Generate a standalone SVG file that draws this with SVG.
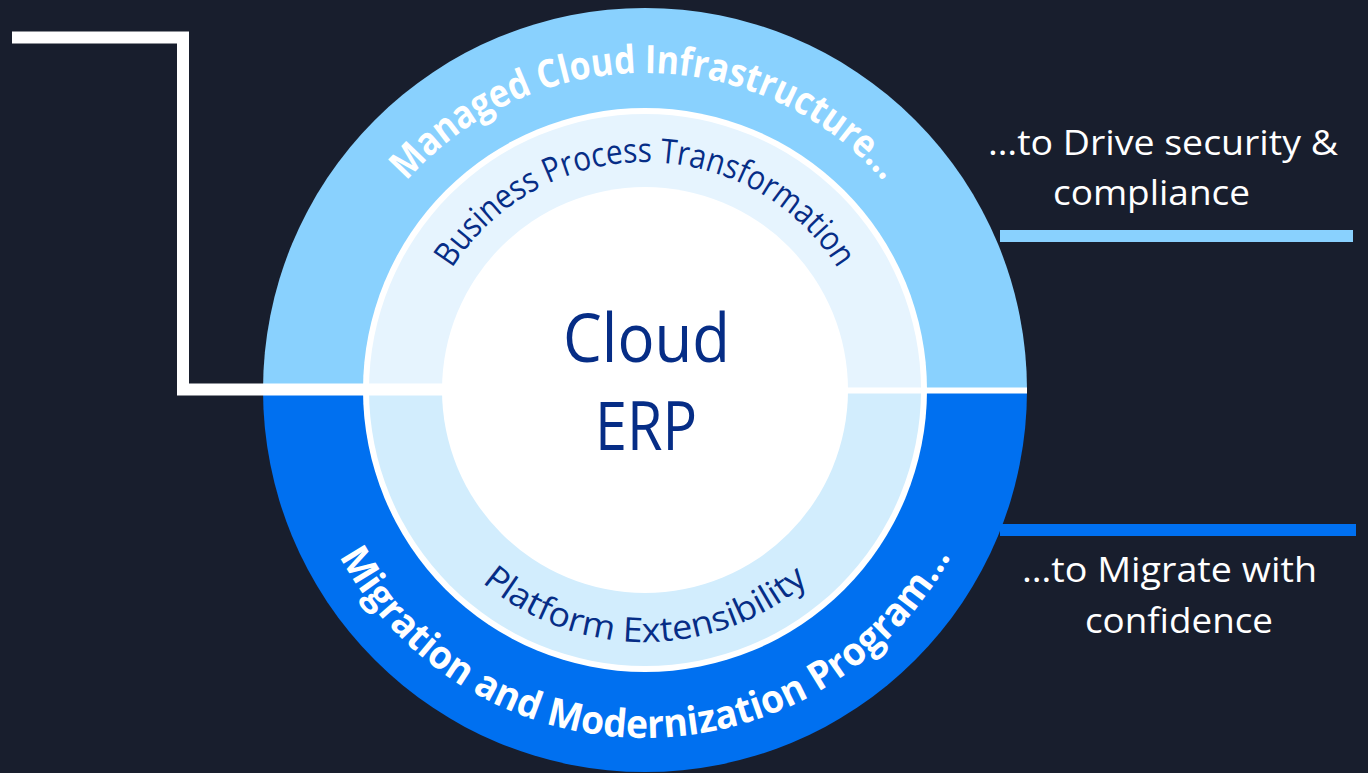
<svg xmlns="http://www.w3.org/2000/svg" width="1368" height="773" viewBox="0 0 1368 773">
<style>
.lbl{font-family:"Open Sans","Noto Sans","Liberation Sans",sans-serif;fill:#ffffff;font-size:34px}
.arcW{font-family:"Open Sans","Noto Sans","Liberation Sans",sans-serif;font-weight:700;fill:#ffffff;font-size:39px}
.arcN{font-family:"Open Sans","Noto Sans","Liberation Sans",sans-serif;fill:#062d86;font-size:34px}
.core{font-family:"Open Sans","Noto Sans","Liberation Sans",sans-serif;fill:#062d86;font-size:68px}
</style>
<defs>
<path id="pTopOuter" d="M328,390 A317,317 0 0 1 962,390"/>
<path id="pTopInner" d="M417,390 A228,228 0 0 1 873,390"/>
<path id="pBotInner" d="M393,390 A252,252 0 0 0 897,390"/>
<path id="pBotOuter" d="M297,390 A348,348 0 0 0 993,390"/>
</defs>
<rect x="0" y="0" width="1368" height="773" fill="#181e2d"/>

<g id="outer-top">
<path d="M263,390 A382,382 0 0 1 1027,390 Z" fill="#89d1fe"/>
</g>
<g id="outer-bottom">
<path d="M263,390 A382,382 0 0 0 1027,390 Z" fill="#0070f0"/>
</g>
<g id="middle-ring">
<circle cx="645" cy="390" r="282" fill="#ffffff"/>
<path d="M369,390 A276,276 0 0 1 921,390 Z" fill="#e6f4fe"/>
<path d="M369,390 A276,276 0 0 0 921,390 Z" fill="#d2edfd"/>
</g>
<g id="core">
<circle cx="645" cy="390" r="203" fill="#ffffff"/>
</g>

<g id="connectors" fill="none">
<line x1="645" y1="390.5" x2="1027" y2="390.5" stroke="#ffffff" stroke-width="6"/>
<path d="M12,37.5 H183 V389.5 H645" stroke="#ffffff" stroke-width="12"/>
<line x1="1000" y1="236" x2="1353" y2="236" stroke="#89d1fe" stroke-width="12"/>
<line x1="1000" y1="530" x2="1356" y2="530" stroke="#0070f0" stroke-width="12"/>
</g>

<g id="label-managed">
<text class="arcW"><textPath href="#pTopOuter" startOffset="50%" text-anchor="middle" textLength="540" lengthAdjust="spacingAndGlyphs">Managed Cloud Infrastructure…</textPath></text>
</g>
<g id="label-bpt">
<text class="arcN"><textPath href="#pTopInner" startOffset="50%" text-anchor="middle" textLength="460" lengthAdjust="spacingAndGlyphs">Business Process Transformation</textPath></text>
</g>
<g id="label-platform">
<text class="arcN"><textPath href="#pBotInner" startOffset="50%" text-anchor="middle" textLength="355" lengthAdjust="spacingAndGlyphs">Platform Extensibility</textPath></text>
</g>
<g id="label-migration">
<text class="arcW"><textPath href="#pBotOuter" startOffset="50%" text-anchor="middle" textLength="746" lengthAdjust="spacingAndGlyphs">Migration and Modernization Program…</textPath></text>
</g>
<g id="label-core">
<text class="core" x="563" y="362" textLength="167" lengthAdjust="spacingAndGlyphs">Cloud</text>
<text class="core" x="595" y="450" textLength="102" lengthAdjust="spacingAndGlyphs">ERP</text>
</g>
<g id="label-security">
<text class="lbl" x="988" y="155" textLength="350" lengthAdjust="spacingAndGlyphs">…to Drive security &amp;</text>
<text class="lbl" x="1053" y="205" textLength="197" lengthAdjust="spacingAndGlyphs">compliance</text>
</g>
<g id="label-migrate">
<text class="lbl" x="1022" y="582" textLength="295" lengthAdjust="spacingAndGlyphs">…to Migrate with</text>
<text class="lbl" x="1085" y="633" textLength="188" lengthAdjust="spacingAndGlyphs">confidence</text>
</g>
</svg>
